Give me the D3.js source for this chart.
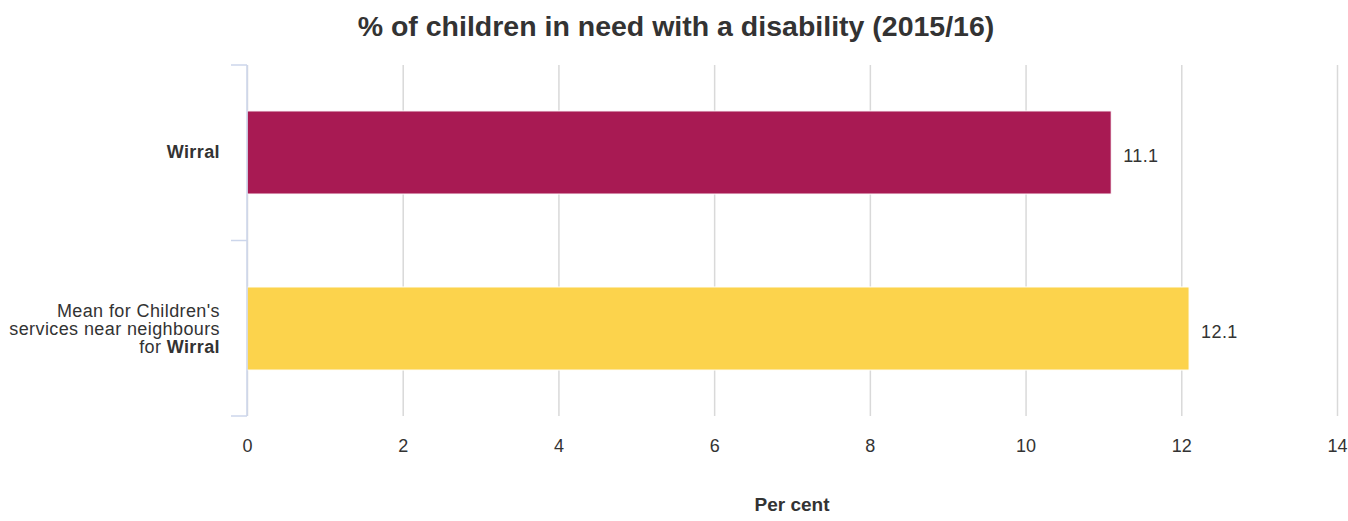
<!DOCTYPE html>
<html><head><meta charset="utf-8">
<script src="https://cdn.jsdelivr.net/npm/d3@7"></script>
<style>body{margin:0;background:#fff}svg{display:block}text{font-family:"Liberation Sans",Arial,sans-serif}</style>
</head><body>
<svg id="c" width="1348" height="521"></svg>
<script>
const categories = ["Wirral", "Mean for Children's services near neighbours for Wirral"];
const values = [11.1, 12.1];
const colors = ["#a81a53", "#fcd34c"];
const xTicks = [0, 2, 4, 6, 8, 10, 12, 14];
const title = "% of children in need with a disability (2015/16)";
const xTitle = "Per cent";

const svg = d3.select("#c");
const m = {l: 247, r: 1337, t: 65, b: 416};
const x = d3.scaleLinear().domain([0, 14]).range([m.l, m.r]);
const y = d3.scaleBand().domain(categories).range([m.t, m.b]).paddingInner(0.528).paddingOuter(0.261);

// gridlines
const xAxis = d3.axisBottom(x).tickValues(xTicks).tickSize(-(m.b - m.t)).tickPadding(23);
const gx = svg.append("g").attr("transform", `translate(0,${m.b})`).call(xAxis);
gx.select(".domain").remove();
gx.selectAll(".tick line").attr("stroke", "#d9d9d9").attr("stroke-width", 1.5);
gx.selectAll(".tick text").attr("fill", "#333").style("font-size", "18px").attr("font-family", "Liberation Sans, Arial, sans-serif");

// bars
svg.selectAll("rect.bar").data(categories).enter().append("rect")
  .attr("x", x(0)).attr("y", d => y(d))
  .attr("width", (d, i) => x(values[i]) - x(0)).attr("height", y.bandwidth())
  .attr("fill", (d, i) => colors[i]).attr("stroke", "#fff").attr("stroke-width", 1);

// value labels
svg.selectAll("text.val").data(categories).enter().append("text")
  .attr("x", (d, i) => x(values[i]) + 12).attr("y", d => y(d) + y.bandwidth() / 2 + 9.5)
  .attr("fill", "#333").style("font-size", "18px").style("letter-spacing", "0.4px").text((d, i) => values[i]);

// y axis line and ticks
const band = (m.b - m.t) / categories.length;
const yAxisG = svg.append("g");
yAxisG.append("line").attr("x1", m.l).attr("x2", m.l).attr("y1", m.t).attr("y2", m.b).attr("stroke", "#ccd6eb").attr("stroke-width", 1.5);
const yTickPos = d3.range(categories.length + 1).map(i => m.t + i * band);
yAxisG.selectAll("line.t").data(yTickPos).enter().append("line")
  .attr("x1", 231).attr("x2", m.l).attr("y1", d => d).attr("y2", d => d)
  .attr("stroke", "#ccd6eb").attr("stroke-width", 1.5);

// category labels
const lab = svg.append("g").attr("fill", "#333").style("font-size", "18px").attr("text-anchor", "end").style("letter-spacing", "0.4px");
lab.append("text").attr("x", 220).attr("y", y(categories[0]) + y.bandwidth() / 2 + 5.5)
  .style("font-weight", "bold").text("Wirral");
const t2 = lab.append("text").attr("x", 220).attr("y", y(categories[1]) + y.bandwidth() / 2 - 11.5);
t2.append("tspan").attr("x", 220).attr("dy", 0).text("Mean for Children's");
t2.append("tspan").attr("x", 220).attr("dy", 18).text("services near neighbours");
const l3 = t2.append("tspan").attr("x", 220).attr("dy", 18);
l3.append("tspan").text("for ");
l3.append("tspan").style("font-weight", "bold").text("Wirral");

// title
svg.append("text").attr("x", 676).attr("y", 36).attr("text-anchor", "middle")
  .attr("fill", "#333").style("font-size", "28.5px").style("font-weight", "bold").text(title);
svg.append("text").attr("x", (m.l + m.r) / 2).attr("y", 511).attr("text-anchor", "middle")
  .attr("fill", "#333").style("font-size", "19px").style("font-weight", "bold").text(xTitle);
</script>
</body></html>
